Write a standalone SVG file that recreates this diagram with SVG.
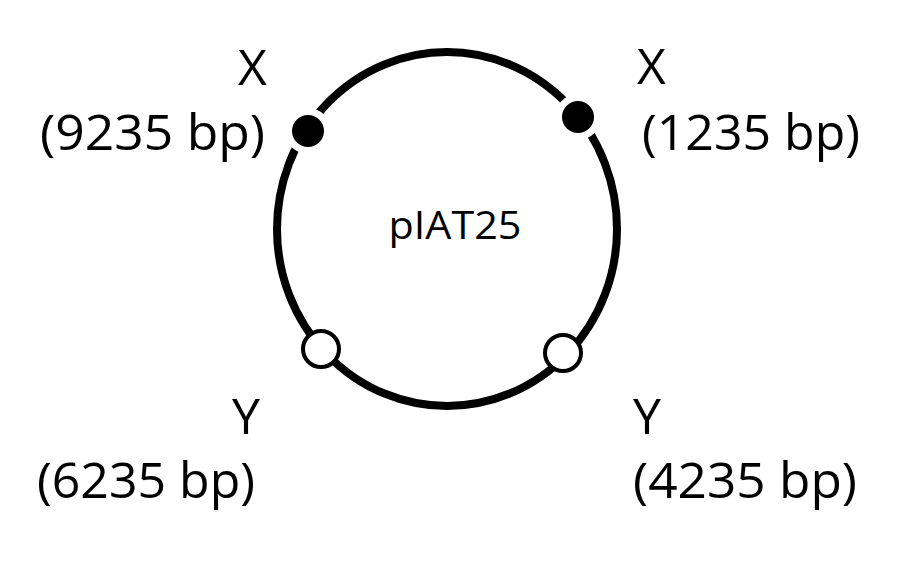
<svg xmlns="http://www.w3.org/2000/svg" width="900" height="572" viewBox="0 0 900 572">
<style>
text{font-family:"Open Sans","Noto Sans","DejaVu Sans",sans-serif;fill:#000}
.lbl{font-size:50px}
.ring{fill:none;stroke:#000;stroke-width:8}
.gap{fill:#fff}
.site-x{fill:#000}
.site-y{fill:#fff;stroke:#000;stroke-width:4}
</style>
<rect width="900" height="572" fill="#fff"/>
<g id="plasmid">
<ellipse class="ring" cx="447" cy="229" rx="170" ry="177"/>
<text x="455" y="239" font-size="39" text-anchor="middle" textLength="133" lengthAdjust="spacingAndGlyphs">pIAT25</text>
</g>
<g id="connectors"></g>
<g id="site-x-9235">
<circle class="gap" cx="308" cy="131" r="23"/>
<circle class="site-x" cx="308" cy="131" r="16"/>
<text class="lbl" x="267" y="85" text-anchor="end">X</text>
<text class="lbl" x="265" y="150" text-anchor="end" textLength="225" lengthAdjust="spacingAndGlyphs">(9235 bp)</text>
</g>
<g id="site-x-1235">
<circle class="gap" cx="578" cy="117" r="23"/>
<circle class="site-x" cx="578" cy="117" r="16"/>
<text class="lbl" x="637" y="84">X</text>
<text class="lbl" x="642" y="150" textLength="218" lengthAdjust="spacingAndGlyphs">(1235 bp)</text>
</g>
<g id="site-y-6235">
<circle class="site-y" cx="321" cy="349" r="18"/>
<text class="lbl" x="260" y="434" text-anchor="end">Y</text>
<text class="lbl" x="255" y="498" text-anchor="end" textLength="218" lengthAdjust="spacingAndGlyphs">(6235 bp)</text>
</g>
<g id="site-y-4235">
<circle class="site-y" cx="563" cy="353" r="18"/>
<text class="lbl" x="633" y="434">Y</text>
<text class="lbl" x="633" y="498" textLength="224" lengthAdjust="spacingAndGlyphs">(4235 bp)</text>
</g>
</svg>
